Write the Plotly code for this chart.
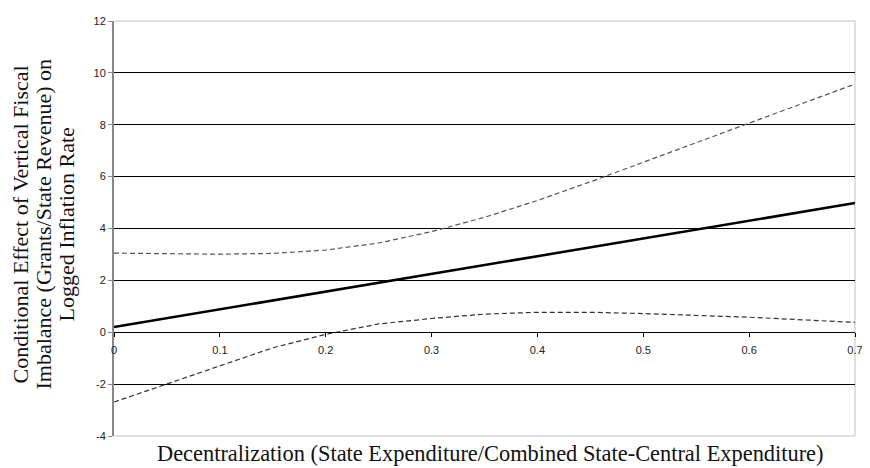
import plotly.graph_objects as go

# Data
decentralization = [0.0, 0.05, 0.1, 0.15, 0.2, 0.25, 0.3, 0.35, 0.4, 0.45, 0.5, 0.55, 0.6, 0.65, 0.7]
effect = [0.20, 0.54, 0.88, 1.22, 1.57, 1.91, 2.25, 2.59, 2.93, 3.27, 3.61, 3.96, 4.30, 4.64, 4.98]
upper_ci = [3.05, 3.02, 3.01, 3.04, 3.17, 3.44, 3.88, 4.43, 5.08, 5.80, 6.55, 7.30, 8.05, 8.80, 9.57]
lower_ci = [-2.69, -1.99, -1.29, -0.60, -0.08, 0.32, 0.53, 0.70, 0.77, 0.77, 0.72, 0.66, 0.58, 0.48, 0.38]

x_ticks = [0, 0.1, 0.2, 0.3, 0.4, 0.5, 0.6, 0.7]
x_ticklabels = ["0", "0.1", "0.2", "0.3", "0.4", "0.5", "0.6", "0.7"]
y_ticks = [-4, -2, 0, 2, 4, 6, 8, 10, 12]
y_ticklabels = ["-4", "-2", "0", "2", "4", "6", "8", "10", "12"]
y_range = [-4, 12]
x_range = [0, 0.7]

x_title = "Decentralization (State Expenditure/Combined State-Central Expenditure)"
y_title_lines = ["Conditional Effect of Vertical Fiscal",
                 "Imbalance (Grants/State Revenue) on",
                 "Logged Inflation Rate"]

serif = "Liberation Serif, Times New Roman, serif"
sans = "Liberation Sans, Arial, sans-serif"

fig = go.Figure()
fig.add_trace(go.Scatter(x=decentralization, y=upper_ci, mode="lines",
                         line=dict(color="#555555", width=1.2, dash="5px,3px"),
                         showlegend=False, hoverinfo="skip"))
fig.add_trace(go.Scatter(x=decentralization, y=lower_ci, mode="lines",
                         line=dict(color="#333333", width=1.2, dash="5px,3px"),
                         showlegend=False, hoverinfo="skip"))
fig.add_trace(go.Scatter(x=decentralization, y=effect, mode="lines",
                         line=dict(color="#000000", width=2.5),
                         showlegend=False, hoverinfo="skip"))

zero_pos = (0 - y_range[0]) / (y_range[1] - y_range[0])

annotations = [dict(text=x_title, xref="paper", yref="paper",
                    x=0.5, y=0, xshift=6, yshift=-17, yanchor="middle", xanchor="center",
                    showarrow=False,
                    font=dict(family=serif, size=22.4, color="#111111"))]
y_title_shifts = [-94, -71, -48]
for line_text, shift in zip(y_title_lines, y_title_shifts):
    annotations.append(dict(text=line_text, xref="paper", yref="paper",
                            x=0, y=0.5, xshift=shift, yshift=4, xanchor="center", yanchor="middle",
                            textangle=-90, showarrow=False,
                            font=dict(family=serif, size=22, color="#111111")))

fig.update_layout(
    width=862, height=460,
    margin=dict(l=106, r=10, t=7, b=32),
    paper_bgcolor="white", plot_bgcolor="white",
    xaxis=dict(range=x_range, tickvals=x_ticks, ticktext=x_ticklabels,
               showgrid=False, zeroline=False,
               showline=True, linecolor="#000000", linewidth=1,
               ticks="outside", ticklen=4, tickcolor="#000000", tickwidth=1,
               anchor="free", position=zero_pos, ticklabelstandoff=4,
               tickfont=dict(family=sans, size=11, color="#222222")),
    yaxis=dict(range=y_range, tickvals=y_ticks, ticktext=y_ticklabels,
               showgrid=True, gridcolor="#000000", gridwidth=1,
               zeroline=False,
               showline=True, linecolor="#888888", linewidth=2,
               ticks="outside", ticklen=4, tickcolor="#888888", tickwidth=1,
               tickfont=dict(family=sans, size=11, color="#222222")),
    shapes=[dict(type="path", xref="paper", yref="paper",
                 path="M 0,1 L 1,1 L 1,0 L 0,0",
                 line=dict(color="#c0c0c0", width=1), layer="between")],
    annotations=annotations,
)

fig.write_html("out.html")
